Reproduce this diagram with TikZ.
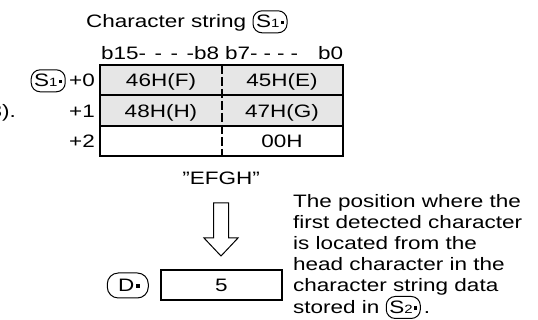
\documentclass[tikz,border=0pt]{standalone}
\usepackage{fontspec}
\setmainfont{Liberation Sans}[FakeStretch=1.25]
\definecolor{cellgray}{HTML}{E6E6E6}
\newcommand\opnd[3][0pt]{\tikz[baseline=(o.base)]\node[draw,line width=1pt,rounded corners=9pt,inner xsep=3pt,inner ysep=2pt,minimum height=22pt,minimum width=#1](o){#2{\fontsize{12}{12}\selectfont #3}\kern1.5pt\rule[4pt]{3.2pt}{3.2pt}};}
\begin{document}
\begin{tikzpicture}[x=1pt,y=-1pt,font=\fontsize{18}{21}\selectfont,
  tline/.style={line width=1.6pt},
  divline/.style={line width=1.3pt,dash pattern=on 9pt off 3pt},
  lbl/.style={inner sep=0pt,anchor=base},
  hollow/.style={draw,line width=1pt,fill=white,line join=miter}]
\useasboundingbox (0,0) rectangle (538,320);
% title
\node[lbl,anchor=base west] (title) at (86,28) {Character string \opnd{S}{1}};
% bit header
\node[lbl,anchor=base west] (bhi) at (101,60) {\makebox[118pt][s]{b15- - - -b8}};
\node[lbl,anchor=base west] (blo) at (225,60) {\makebox[118pt][s]{b7- - - -\hspace{14pt} b0}};
% table
\fill[cellgray] (100,65) rectangle (343,126);
\draw[tline] (100,65) rectangle (343,156);
\draw[tline] (100,95) -- (343,95);
\draw[tline] (100,126) -- (343,126);
\draw[divline] (222,65) -- (222,156);
\node[lbl] (c11) at (161,87) {46H(F)};
\node[lbl] (c12) at (282,87) {45H(E)};
\node[lbl] (c21) at (161,117.5) {48H(H)};
\node[lbl] (c22) at (282,117.5) {47H(G)};
\node[lbl] (c32) at (282,148) {00H};
% row labels
\node[lbl,anchor=base east] (r0) at (95,87) {+0};
\node[lbl,anchor=base east] (r1) at (95,117.5) {+1};
\node[lbl,anchor=base east] (r2) at (95,148) {+2};
\node[lbl,anchor=base east] (s1) at ([xshift=-3pt]r0.base west) {\opnd{S}{1}};
\node[lbl,anchor=base east] (note) at (16,117.5) {3).};
% string
\node[lbl] (efgh) at (221,185) {"EFGH"};
% hollow arrow
\coordinate (atop) at (221,203);
\draw[hollow] ([xshift=-7.5pt]atop) -- ([xshift=7.5pt]atop) -- ++(0,35) -- ++(9.5,0)
  -- (221,256) -- (204,238) -- ([xshift=-7.5pt]atop |- 0,238) -- cycle;
% result
\node[draw,line width=1.6pt,minimum width=121pt,minimum height=30pt,inner sep=0pt] (dbox) at (221.5,285) {5};
\node[anchor=east,inner sep=0pt] (dlab) at (149,285.5) {\tikz[baseline=(o.base)]\node[draw,line width=1pt,rounded corners=11pt,inner sep=0pt,minimum height=25pt,minimum width=41pt](o){\kern2pt D\kern2pt\rule[4pt]{3.2pt}{3.2pt}};};
% explanation
\node[inner sep=0pt,anchor=north west,align=left] (expl) at (293,194)
 {The position where the\\first detected character\\is located from the\\head character in the\\character string data\\stored in \opnd{S}{2}\,.};
\end{tikzpicture}
\end{document}
